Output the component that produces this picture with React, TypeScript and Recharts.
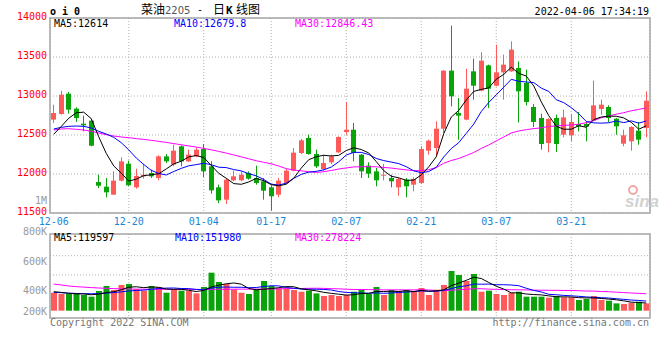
import { Bar, CartesianGrid, Cell, ComposedChart, Line, XAxis, YAxis } from 'recharts';

const DATES = [
  '12-06', '12-07', '12-08', '12-09', '12-10', '12-13', '12-14', '12-15', '12-16', '12-17',
  '12-20', '12-21', '12-22', '12-23', '12-24', '12-27', '12-28', '12-29', '12-30', '12-31',
  '01-04', '01-05', '01-06', '01-07', '01-10', '01-11', '01-12', '01-13', '01-14', '01-17',
  '01-18', '01-19', '01-20', '01-21', '01-24', '01-25', '01-26', '01-27', '01-28', '02-07',
  '02-08', '02-09', '02-10', '02-11', '02-14', '02-15', '02-16', '02-17', '02-18', '02-21',
  '02-22', '02-23', '02-24', '02-25', '02-28', '03-01', '03-02', '03-03', '03-04', '03-07',
  '03-08', '03-09', '03-10', '03-11', '03-14', '03-15', '03-16', '03-17', '03-18', '03-21',
  '03-22', '03-23', '03-24', '03-25', '03-28', '03-29', '03-30', '03-31', '04-01', '04-06',
];

const OPEN = [
  12697, 12769, 13030, 12838, 12645, 12684, 11897, 11838, 11735, 11915,
  12132, 11829, 11970, 12013, 11949, 12226, 12120, 12355, 12162, 12226,
  12320, 12098, 11829, 11671, 11919, 11919, 12013, 11949, 11906, 11829,
  11735, 11885, 12043, 12269, 12462, 12256, 12064, 12150, 12278, 12538,
  12568, 12248, 12107, 12034, 11979, 11949, 11829, 11927, 11863, 11885,
  12299, 12333, 12581, 13325, 12782, 12697, 13316, 13068, 13393, 13132,
  13303, 13316, 13359, 13167, 12859, 12718, 12397, 12718, 12504, 12496,
  12641, 12641, 12684, 12833, 12859, 12709, 12389, 12419, 12556, 12590,
];
const HIGH = [
  12889, 13068, 13051, 12855, 12748, 12709, 11991, 11949, 12034, 12214,
  12171, 12068, 12128, 12056, 12239, 12256, 12376, 12367, 12312, 12342,
  12384, 12162, 11863, 11949, 12043, 12034, 12034, 12107, 11949, 11855,
  11949, 12068, 12333, 12449, 12504, 12312, 12248, 12248, 12483, 12923,
  12654, 12256, 12150, 12077, 12128, 11991, 11949, 11949, 11957, 12355,
  12440, 12675, 13330, 13902, 12974, 13350, 13479, 13560, 13402, 13658,
  13530, 13701, 13444, 13338, 12897, 12774, 12715, 12761, 12825, 12769,
  12795, 12675, 13197, 12953, 12880, 12715, 12568, 12611, 12667, 13060,
];
const LOW = [
  12654, 12761, 12774, 12667, 12547, 12355, 11820, 11701, 11735, 11906,
  11846, 11812, 11940, 11949, 11919, 12141, 12098, 12098, 12154, 12214,
  11962, 11748, 11628, 11615, 11906, 11906, 11927, 11863, 11671, 11530,
  11701, 11872, 12034, 12256, 12248, 12077, 12043, 12128, 12269, 12504,
  12162, 11949, 11949, 11842, 11919, 11829, 11722, 11701, 11778, 11872,
  12248, 12226, 12526, 12867, 12440, 12690, 12953, 13060, 12846, 13124,
  12953, 13310, 12662, 12880, 12603, 12312, 12278, 12282, 12470, 12419,
  12547, 12419, 12675, 12761, 12667, 12504, 12355, 12299, 12376, 12470,
];
const CLOSE = [
  12782, 13017, 12825, 12718, 12624, 12363, 11850, 11765, 11915, 12162,
  11855, 11974, 11991, 11970, 12226, 12162, 12299, 12162, 12248, 12312,
  12034, 11790, 11662, 11927, 11970, 11991, 11940, 11885, 11786, 11714,
  11915, 12043, 12274, 12432, 12256, 12098, 12141, 12226, 12474, 12568,
  12269, 12034, 12004, 11919, 11991, 11906, 11936, 11842, 11936, 12320,
  12427, 12581, 13325, 12996, 12748, 13094, 13132, 13453, 13094, 13303,
  13402, 13594, 13060, 12923, 12667, 12385, 12705, 12385, 12726, 12667,
  12611, 12607, 12880, 12889, 12718, 12611, 12496, 12603, 12440, 12940,
];

const MA5 = [
  12510, 12610, 12715, 12785, 12793, 12709, 12476, 12264, 12103, 12011,
  11909, 11934, 11979, 11990, 12003, 12065, 12130, 12164, 12219, 12237,
  12211, 12109, 12009, 11945, 11877, 11868, 11898, 11943, 11914, 11863,
  11848, 11869, 11946, 12076, 12184, 12221, 12240, 12231, 12239, 12301,
  12336, 12314, 12270, 12159, 12043, 11971, 11951, 11919, 11922, 11988,
  12092, 12221, 12518, 12730, 12815, 12949, 13059, 13085, 13104, 13215,
  13277, 13369, 13291, 13256, 13129, 12926, 12748, 12613, 12574, 12574,
  12619, 12599, 12698, 12731, 12741, 12741, 12719, 12663, 12574, 12618,
];
const MA10 = [
  12577, 12598, 12611, 12615, 12611, 12590, 12547, 12513, 12470, 12402,
  12309, 12205, 12122, 12047, 12007, 11987, 12032, 12072, 12105, 12120,
  12138, 12119, 12087, 12082, 12057, 12040, 12004, 11976, 11930, 11870,
  11858, 11883, 11945, 11995, 12024, 12034, 12054, 12089, 12157, 12243,
  12278, 12277, 12250, 12199, 12172, 12153, 12133, 12094, 12041, 12016,
  12032, 12086, 12218, 12326, 12402, 12521, 12640, 12801, 12917, 13015,
  13113, 13214, 13188, 13180, 13172, 13101, 13059, 12952, 12915, 12851,
  12772, 12674, 12656, 12652, 12657, 12680, 12659, 12681, 12652, 12680,
];
const MA30 = [
  12564, 12577, 12581, 12573, 12564, 12547, 12526, 12504, 12487, 12474,
  12466, 12453, 12444, 12432, 12419, 12405, 12390, 12375, 12360, 12345,
  12328, 12310, 12290, 12268, 12244, 12220, 12195, 12170, 12150, 12131,
  12102, 12069, 12051, 12041, 12029, 12020, 12030, 12045, 12064, 12078,
  12091, 12093, 12094, 12092, 12084, 12076, 12064, 12053, 12043, 12043,
  12056, 12082, 12138, 12173, 12199, 12236, 12276, 12328, 12372, 12425,
  12474, 12526, 12552, 12568, 12582, 12592, 12610, 12616, 12624, 12627,
  12639, 12658, 12687, 12720, 12744, 12767, 12786, 12811, 12828, 12849,
];

// volume in thousands
const VOLUME = [
  290, 269, 269, 269, 253, 226, 318, 398, 334, 415,
  431, 350, 323, 398, 382, 290, 334, 323, 318, 279,
  382, 613, 463, 431, 344, 290, 269, 350, 479, 398,
  360, 360, 334, 306, 323, 279, 237, 253, 237, 253,
  306, 334, 269, 382, 253, 334, 306, 334, 306, 366,
  253, 339, 415, 640, 576, 479, 592, 306, 323, 269,
  253, 290, 306, 226, 226, 226, 210, 237, 215, 215,
  173, 189, 237, 173, 161, 118, 108, 129, 145, 118,
];
const VOL_MA5 = [
  306, 295, 280, 272, 270, 257, 267, 293, 306, 338,
  379, 386, 371, 383, 377, 349, 345, 345, 329, 309,
  327, 383, 411, 434, 447, 428, 359, 337, 346, 357,
  371, 389, 386, 352, 337, 320, 296, 280, 266, 252,
  257, 277, 280, 309, 309, 314, 309, 322, 307, 329,
  313, 320, 336, 403, 445, 490, 540, 519, 455, 394,
  349, 288, 288, 269, 260, 255, 239, 225, 223, 221,
  210, 206, 206, 197, 187, 176, 159, 138, 132, 124,
];
const VOL_MA10 = [
  296, 290, 283, 278, 275, 273, 275, 283, 292, 304,
  318, 326, 332, 345, 358, 364, 366, 358, 356, 343,
  338, 364, 378, 382, 378, 378, 371, 374, 390, 402,
  400, 374, 362, 349, 347, 346, 343, 333, 309, 294,
  289, 286, 280, 287, 280, 286, 293, 301, 308, 319,
  314, 314, 329, 355, 387, 401, 430, 427, 429, 419,
  419, 414, 403, 362, 327, 302, 264, 257, 246, 240,
  232, 222, 215, 210, 204, 193, 183, 172, 165, 155,
];
const VOL_MA30 = [
  430, 415, 398, 388, 380, 372, 366, 360, 356, 352,
  350, 348, 347, 346, 345, 345, 344, 344, 343, 343,
  343, 344, 345, 346, 347, 348, 348, 349, 350, 350,
  352, 355, 357, 358, 361, 362, 360, 355, 352, 346,
  342, 342, 340, 339, 335, 336, 336, 336, 335, 338,
  334, 325, 323, 330, 338, 344, 355, 354, 348, 344,
  341, 338, 337, 335, 331, 330, 329, 328, 327, 326,
  322, 317, 316, 309, 306, 299, 292, 285, 280, 272,
];

const DATE_TICKS = ['12-06', '12-20', '01-04', '01-17', '02-07', '02-21', '03-07', '03-21'];
const PRICE_TICKS = [11500, 12000, 12500, 13000, 13500, 14000];
const VOL_LABELS = ['800K', '600K', '400K', '200K'];
const VOL_GRID = [576, 887];
const VOL_DOMAIN = [-118, 1237];

const UP = '#ff5a5a';
const DOWN = '#0aa30a';
const BLUE = '#1a86d6';
const GRID = '#b0b0b0';
const MONO = '"DejaVu Sans Mono", "Liberation Mono", monospace';
const CJK = '"Noto Sans CJK SC", sans-serif';

const rows = DATES.map((date, i) => ({
  date,
  open: OPEN[i],
  high: HIGH[i],
  low: LOW[i],
  close: CLOSE[i],
  range: [LOW[i], HIGH[i]],
  ma5: MA5[i],
  ma10: MA10[i],
  ma30: MA30[i],
  vol: VOLUME[i],
  vma5: VOL_MA5[i],
  vma10: VOL_MA10[i],
  vma30: VOL_MA30[i],
}));

function Candle(props: any) {
  const { x, y, width, height, payload } = props;
  if (!payload) return null;
  const top = Math.min(y, y + height);
  const h = Math.abs(height);
  const { open, close, high, low } = payload;
  const k = h / (high - low);
  const bodyTop = top + (high - Math.max(open, close)) * k;
  const bodyH = Math.max(1, Math.abs(open - close) * k);
  const left = Math.round(x);
  const w = Math.round(width);
  const cx = left + Math.floor(w / 2) + 0.5;
  const color = close >= open ? UP : DOWN;
  return (
    <g>
      <line x1={cx} x2={cx} y1={top} y2={top + h} stroke={color} strokeWidth={1} />
      <rect x={left} y={bodyTop} width={w} height={bodyH} fill={color} />
    </g>
  );
}

function PriceTick({ x, y, payload }: any) {
  return (
    <text x={x} y={y} dy={2} textAnchor="end" fill="#ff0000" fontSize={10} fontFamily={MONO}>
      {payload.value}
    </text>
  );
}

function DateTick({ x, y, payload }: any) {
  return (
    <text x={x} y={y} dy={12} textAnchor="middle" fill={BLUE} fontSize={10} fontFamily={MONO}>
      {payload.value}
    </text>
  );
}

export default function App() {
  return (
    <div style={{ position: 'absolute', left: 0, top: 0, width: 660, height: 360, background: '#fff' }}>
      <div style={{ position: 'absolute', left: 0, top: 0 }}>
        <ComposedChart width={660} height={233} data={rows} margin={{ top: 18, right: 10, bottom: 0, left: 0 }}>
          <CartesianGrid stroke={GRID} strokeDasharray="1 2" xAxisId="grid" />
          <XAxis
            dataKey="date"
            ticks={DATE_TICKS}
            interval={0}
            tickLine={false}
            axisLine={false}
            tickSize={0}
            tickMargin={0}
            height={20}
            tick={<DateTick />}
          />
          <XAxis xAxisId="grid" dataKey="date" ticks={DATE_TICKS.slice(1)} interval={0} hide />
          <YAxis
            domain={[11500, 14000]}
            ticks={PRICE_TICKS}
            interval={0}
            width={50}
            tickLine={false}
            axisLine={false}
            tickSize={0}
            tickMargin={3}
            tick={<PriceTick />}
            allowDataOverflow
          />
          <Bar dataKey="range" shape={Candle} barSize={5} isAnimationActive={false} />
          <Line dataKey="ma30" stroke="#ff00ff" strokeWidth={1} dot={false} isAnimationActive={false} />
          <Line dataKey="ma10" stroke="#0000ff" strokeWidth={1} dot={false} isAnimationActive={false} />
          <Line dataKey="ma5" stroke="#000000" strokeWidth={1} dot={false} isAnimationActive={false} />
        </ComposedChart>
      </div>

      <div style={{ position: 'absolute', left: 0, top: 234 }}>
        <ComposedChart width={660} height={84} data={rows} margin={{ top: 0, right: 10, bottom: 0, left: 50 }}>
          <CartesianGrid stroke={GRID} strokeDasharray="1 2" xAxisId="grid" />
          <XAxis dataKey="date" hide />
          <XAxis xAxisId="grid" dataKey="date" ticks={DATE_TICKS.slice(1)} interval={0} hide />
          <YAxis hide domain={VOL_DOMAIN} ticks={VOL_GRID} interval={0} allowDataOverflow />
          <Bar dataKey="vol" barSize={6} isAnimationActive={false}>
            {rows.map((r) => (
              <Cell key={r.date} fill={r.close >= r.open ? UP : DOWN} />
            ))}
          </Bar>
          <Line dataKey="vma30" stroke="#ff00ff" strokeWidth={1} dot={false} isAnimationActive={false} />
          <Line dataKey="vma10" stroke="#0000ff" strokeWidth={1} dot={false} isAnimationActive={false} />
          <Line dataKey="vma5" stroke="#000000" strokeWidth={1} dot={false} isAnimationActive={false} />
        </ComposedChart>
      </div>

      <svg
        width={660}
        height={360}
        style={{ position: 'absolute', left: 0, top: 0, pointerEvents: 'none' }}
      >
        <rect x={50} y={18} width={600} height={195} fill="none" stroke="#a6a6a6" strokeWidth={1.5} />
        <rect x={50} y={234} width={600} height={84} fill="none" stroke="#a6a6a6" strokeWidth={1.5} />

        <text x={50} y={15} fontSize={10} fontWeight="bold" fontFamily={MONO} fill="#000">o i 0</text>
        <text x={141} y={14} fontSize={12} fontFamily={CJK} fill="#000">菜油</text>
        <text x={165} y={13.5} fontSize={10} fontFamily='"DejaVu Sans", sans-serif' fill="#555">2205</text>
        <text x={197} y={13} fontSize={10} fontFamily={MONO} fill="#000">-</text>
        <text x={213} y={14} fontSize={12} fontFamily={CJK} fill="#000">日</text>
        <text x={226} y={14} fontSize={11} fontWeight="bold" fontFamily={MONO} fill="#000">K</text>
        <text x={236} y={14} fontSize={12} fontFamily={CJK} fill="#000">线图</text>
        <text x={649} y={15} textAnchor="end" fontSize={10} fontFamily={MONO} fill="#000">2022-04-06 17:34:19</text>

        <text x={54} y={27} fontSize={10} fontFamily={MONO} fill="#000">MA5:12614</text>
        <text x={174} y={27} fontSize={10} fontFamily={MONO} fill="#0000ff">MA10:12679.8</text>
        <text x={295} y={27} fontSize={10} fontFamily={MONO} fill="#ff00ff">MA30:12846.43</text>

        <text x={47} y={204} textAnchor="end" fontSize={10} fontFamily={MONO} fill="#999">1M</text>

        <text x={625} y={207} fontSize={17} fontStyle="italic" fontWeight="bold" fontFamily='"Liberation Sans", sans-serif' fill="#c8c8c8" opacity={0.8}>sina</text>
        <circle cx={633} cy={190} r={4} fill="none" stroke="#f0a8a8" strokeWidth={2} />

        <text x={54} y={241} fontSize={10} fontFamily={MONO} fill="#000">MA5:119597</text>
        <text x={175} y={241} fontSize={10} fontFamily={MONO} fill="#0000ff">MA10:151980</text>
        <text x={295} y={241} fontSize={10} fontFamily={MONO} fill="#ff00ff">MA30:278224</text>

        {VOL_LABELS.map((label, i) => (
          <text
            key={label}
            x={47}
            y={[234.5, 264.5, 293.5, 314.5][i]}
            textAnchor="end"
            fontSize={10}
            fontFamily={MONO}
            fill="#999"
          >
            {label}
          </text>
        ))}

        <text x={50} y={326} fontSize={10} fontFamily={MONO} fill="#777">Copyright 2022 SINA.COM</text>
        <text x={649} y={326} textAnchor="end" fontSize={10} fontFamily={MONO} fill="#777">http://finance.sina.com.cn</text>
      </svg>
    </div>
  );
}
